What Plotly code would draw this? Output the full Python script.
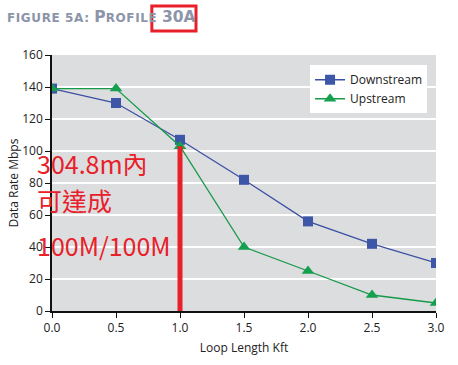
import plotly.graph_objects as go

loop_kft = [0.0, 0.5, 1.0, 1.5, 2.0, 2.5, 3.0]
downstream = [139, 130, 107, 82, 56, 42, 30]
upstream = [139, 139, 103, 40, 25, 10, 5]
x_ticks = [0.0, 0.5, 1.0, 1.5, 2.0, 2.5, 3.0]
x_tick_text = ["0.0", "0.5", "1.0", "1.5", "2.0", "2.5", "3.0"]
y_ticks = [0, 20, 40, 60, 80, 100, 120, 140, 160]
marked_x = 1.0
notes = ["304.8m內", "可達成", "100M/100M"]

fig = go.Figure()
fig.add_trace(go.Scatter(x=loop_kft, y=downstream, name="Downstream", mode="lines+markers",
                         line=dict(color="#3b50a3", width=1.3),
                         marker=dict(symbol="square", size=10, color="#3e56a8")))
fig.add_trace(go.Scatter(x=loop_kft, y=upstream, name="Upstream", mode="lines+markers",
                         line=dict(color="#17994a", width=1.3),
                         marker=dict(symbol="triangle-up", size=11, color="#14a04e")))

# red marker line at 1.0 kft up to upstream value
fig.add_shape(type="line", xref="x", yref="y", x0=marked_x, x1=marked_x, y0=0,
              y1=upstream[loop_kft.index(marked_x)], line=dict(color="#e8202a", width=5))

# red box around "30A"
fig.add_shape(type="rect", xref="paper", yref="paper", x0=0.26, x1=0.375, y0=1.094, y1=1.191,
              line=dict(color="#e8202a", width=3))

fig.add_annotation(xref="paper", yref="paper", x=-0.122, y=1.15, xanchor="left", yanchor="middle",
                   showarrow=False,
                   text="<b><span style='font-size:12px;letter-spacing:0.6px'>FIGURE 5A: </span>P<span style='font-size:12px;letter-spacing:0.6px'>ROFILE </span>30A</b>",
                   font=dict(family="DejaVu Sans", size=15.5, color="#8b94a9"))

ys = [0.58, 0.435, 0.258]
for t, yy in zip(notes, ys):
    fig.add_annotation(xref="paper", yref="paper", x=-0.043, y=yy, xanchor="left", yanchor="middle",
                       showarrow=False, text=t,
                       font=dict(family="Noto Sans CJK TC, Noto Sans", size=25, color="#e8202a"))

fig.update_layout(
    width=458, height=365,
    margin=dict(l=52, r=22, t=55, b=54),
    paper_bgcolor="white", plot_bgcolor="#dcdddf",
    font=dict(family="Open Sans, Liberation Sans", size=12, color="#222"),
    showlegend=True,
    legend=dict(x=0.672, y=0.96, xanchor="left", yanchor="top", bgcolor="white",
                font=dict(size=12, color="#222"), tracegroupgap=0, itemwidth=30),
    xaxis=dict(range=[0, 3.0], tickvals=x_ticks, ticktext=x_tick_text, showgrid=False,
               showline=True, linecolor="#111", linewidth=1.5, ticks="outside", ticklen=5,
               tickcolor="#111", zeroline=False, automargin=False,
               title=dict(text="Loop Length Kft", font=dict(size=12), standoff=8)),
    yaxis=dict(range=[0, 160], tickvals=y_ticks, showgrid=True, gridcolor="white", gridwidth=2,
               showline=True, linecolor="#111", linewidth=1.5, ticks="outside", ticklen=5,
               tickcolor="#111", zeroline=False, automargin=False,
               title=dict(text="Data Rate Mbps", font=dict(size=12), standoff=1)),
)

fig.write_html("out.html", config={"displayModeBar": False},
               post_script="document.body.style.margin='0';")
